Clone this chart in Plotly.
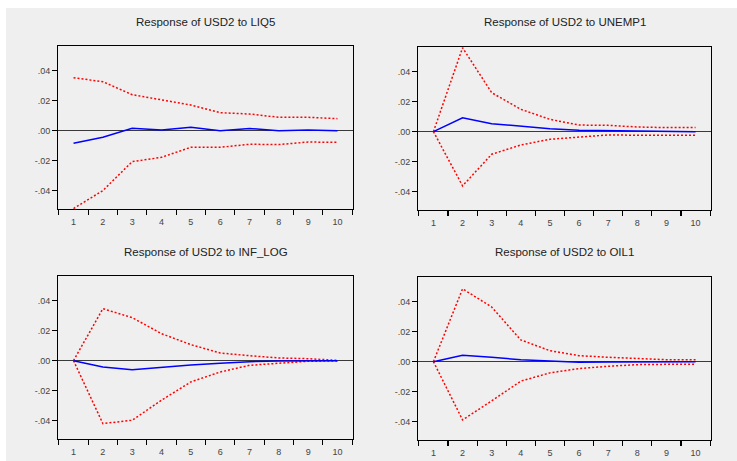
import plotly.graph_objects as go

periods = [1, 2, 3, 4, 5, 6, 7, 8, 9, 10]

titles = ["Response of USD2 to LIQ5", "Response of USD2 to UNEMP1",
          "Response of USD2 to INF_LOG", "Response of USD2 to OIL1"]

liq5_resp = [-0.0084, -0.0044, 0.0016, 0.0004, 0.0022, 0.0000, 0.0015, 0.0000, 0.0004, 0.0000]
liq5_up = [0.0353, 0.0327, 0.0240, 0.0204, 0.0171, 0.0120, 0.0111, 0.0089, 0.0089, 0.0080]
liq5_lo = [-0.0520, -0.0400, -0.0207, -0.0178, -0.0111, -0.0111, -0.0091, -0.0093, -0.0076, -0.0078]

unemp1_resp = [0.0000, 0.0093, 0.0053, 0.0036, 0.0020, 0.0009, 0.0007, 0.0002, 0.0001, 0.0000]
unemp1_up = [0.0000, 0.0560, 0.0260, 0.0149, 0.0082, 0.0044, 0.0042, 0.0031, 0.0027, 0.0027]
unemp1_lo = [0.0000, -0.0362, -0.0151, -0.0089, -0.0051, -0.0036, -0.0022, -0.0024, -0.0024, -0.0024]

inflog_resp = [0.0000, -0.0042, -0.0060, -0.0042, -0.0029, -0.0018, -0.0007, -0.0002, 0.0000, 0.0000]
inflog_up = [0.0000, 0.0347, 0.0287, 0.0180, 0.0107, 0.0051, 0.0033, 0.0018, 0.0013, 0.0002]
inflog_lo = [0.0000, -0.0420, -0.0398, -0.0264, -0.0142, -0.0076, -0.0031, -0.0016, -0.0004, -0.0002]

oil1_resp = [0.0000, 0.0042, 0.0029, 0.0013, 0.0004, -0.0004, -0.0002, 0.0000, 0.0000, 0.0000]
oil1_up = [0.0000, 0.0486, 0.0365, 0.0145, 0.0073, 0.0040, 0.0029, 0.0022, 0.0013, 0.0013]
oil1_lo = [0.0000, -0.0389, -0.0262, -0.0130, -0.0075, -0.0046, -0.0031, -0.0020, -0.0018, -0.0018]

ytick_vals = [0.04, 0.02, 0.0, -0.02, -0.04]
ytick_text = [".04", ".02", ".00", "-.02", "-.04"]

panels = [
    (liq5_resp, liq5_up, liq5_lo),
    (unemp1_resp, unemp1_up, unemp1_lo),
    (inflog_resp, inflog_up, inflog_lo),
    (oil1_resp, oil1_up, oil1_lo),
]

W, H = 737, 461
# pixel boxes (left, right, top, bottom)
boxes = [(58, 353, 46, 209), (418, 711, 47, 210), (58, 353, 276, 439), (418, 711, 277, 440)]
title_y = [22, 22, 252, 252]

fig = go.Figure()
layout = dict(
    width=W, height=H, margin=dict(l=0, r=0, t=0, b=0),
    paper_bgcolor="white", plot_bgcolor="white", showlegend=False,
    font=dict(family="Liberation Sans, Arial, sans-serif", size=9, color="#444444"),
    shapes=[dict(type="rect", xref="paper", yref="paper", x0=6 / W, x1=1, y0=0, y1=1 - 8 / H,
                 fillcolor="#efefef", line=dict(width=0), layer="below")],
    annotations=[],
)

for i, (resp, up, lo) in enumerate(panels):
    n = i + 1
    xa = "x" if n == 1 else f"x{n}"
    ya = "y" if n == 1 else f"y{n}"
    for vals, color, dash in [(up, "#ff0000", "2px,2px"), (lo, "#ff0000", "2px,2px"), (resp, "#0000ff", "solid")]:
        fig.add_trace(go.Scatter(x=periods, y=vals, mode="lines", xaxis=xa, yaxis=ya,
                                 line=dict(color=color, width=1.5, dash=dash), hoverinfo="skip"))
    l, r, t, b = boxes[i]
    xkey = "xaxis" if n == 1 else f"xaxis{n}"
    ykey = "yaxis" if n == 1 else f"yaxis{n}"
    layout[xkey] = dict(
        domain=[l / W, r / W], range=[0.47, 10.53], anchor=ya,
        tickmode="array", tickvals=periods, ticktext=[str(p) for p in periods],
        ticks="outside", ticklen=4, tickcolor="rgba(0,0,0,0)",
        minor=dict(tickvals=[p - 0.5 for p in periods] + [10.5], ticks="outside", ticklen=5,
                   tickcolor="black", tickwidth=1.2),
        showgrid=False, zeroline=False, showline=True, linecolor="black", linewidth=1,
        mirror=True, tickfont=dict(size=9, color="#444444"), fixedrange=True,
    )
    layout[ykey] = dict(
        domain=[1 - b / H, 1 - t / H], range=[-0.0523, 0.0565], anchor=xa,
        tickmode="array", tickvals=ytick_vals, ticktext=ytick_text,
        ticks="outside", ticklen=5, tickcolor="black", tickwidth=1,
        showgrid=False, zeroline=True, zerolinecolor="#3a3a3a", zerolinewidth=1.5,
        showline=True, linecolor="black", linewidth=1, mirror=True,
        tickfont=dict(size=9, color="#444444"), fixedrange=True,
    )
    layout["annotations"].append(dict(
        text=titles[i], xref="paper", yref="paper", x=(l + r) / 2 / W, y=1 - title_y[i] / H,
        xanchor="center", yanchor="middle", showarrow=False,
        font=dict(size=11.5, color="#222222", family="Liberation Sans, Arial, sans-serif"),
    ))

fig.update_layout(**layout)
fig.write_html("out.html", config={"displayModeBar": False, "staticPlot": True},
               post_script="document.body.style.margin='0';document.body.style.padding='0';"
                           "document.body.style.overflow='hidden';")
